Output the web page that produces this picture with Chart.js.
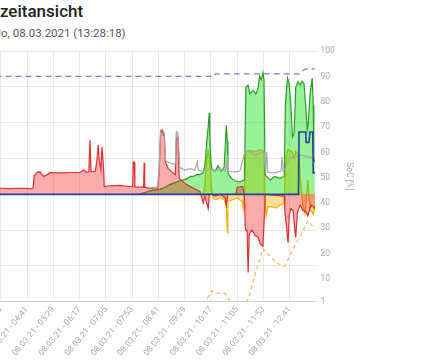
<!DOCTYPE html>
<html>
<head>
<meta charset="utf-8">
<script src="https://cdn.jsdelivr.net/npm/chart.js@4.4.0/dist/chart.umd.min.js"></script>
<style>
  body { margin: 0; background: #fff; overflow: hidden; }
  #titel { position: absolute; left: -46px; top: 1px; font: 500 17px/20px Roboto; color: #222; white-space: nowrap; }
  #datum { position: absolute; left: -9px; top: 27px; font: 11.5px/13.5px Roboto; color: #555; white-space: nowrap; }
  #box { position: absolute; left: -42px; top: 41px; width: 475px; height: 320px; }
</style>
</head>
<body>
<div id="titel">Tageszeitansicht</div>
<div id="datum">Mo, 08.03.2021 (13:28:18)</div>
<div id="box"><canvas id="tagesChart"></canvas></div>
<script>
// x-Achse
const tickLabels = ['08.03.21 - 03:53', '08.03.21 - 04:41', '08.03.21 - 05:29', '08.03.21 - 06:17',
    '08.03.21 - 07:05', '08.03.21 - 07:53', '08.03.21 - 08:41', '08.03.21 - 09:29',
    '08.03.21 - 10:17', '08.03.21 - 11:05', '08.03.21 - 11:53', '08.03.21 - 12:41'];

// Netz (kW, + Bezug / - Einspeisung)
const netzZeit = ['03:25', '03:52', '04:10', '04:29', '04:47', '04:52', '04:54', '05:00', '05:05', '05:11',
    '05:18', '05:23', '05:42', '06:00', '06:18', '06:24', '06:29', '06:34', '06:36', '06:38',
    '06:46', '06:49', '06:51', '06:53', '06:56', '06:58', '07:01', '07:02', '07:13', '07:31',
    '07:46', '07:54', '07:55', '07:57', '07:58', '08:14', '08:15', '08:16', '08:26', '08:39',
    '08:42', '08:45', '08:48', '08:52', '08:54', '08:59', '09:06', '09:12', '09:14', '09:17',
    '09:19', '09:30', '09:39', '09:48', '09:57', '10:03', '10:06', '10:12', '10:14', '10:19',
    '10:25', '10:34', '10:43', '10:45', '10:48', '10:52', '11:03', '11:05', '11:15', '11:18',
    '11:20', '11:23', '11:25', '11:27', '11:32', '11:38', '11:43', '11:47', '11:52', '11:55',
    '11:56', '12:31', '12:32', '12:35', '12:38', '12:40', '12:43', '12:47', '12:51', '12:52',
    '12:55', '13:00', '13:05', '13:11', '13:14', '13:20', '13:27'];
const netzWerte = [0.18, 0.17, 0.16, 0.17, 0.16, 0.17, 0.52, 0.62, 0.63, 0.50,
    0.55, 0.61, 0.60, 0.61, 0.61, 0.68, 0.63, 0.63, 1.52, 0.63,
    0.65, 1.0, 1.38, 0.95, 0.7, 1.32, 0.7, 0.22, 0.24, 0.25,
    0.22, 0.22, 0.9, 0.9, 0.2, 0.2, 0.88, 0.2, 0.17, 0.14,
    0.5, 1.7, 1.8, 1.6, 0.9, 0.72, 0.62, 0.55, 1.65, 1.5,
    0.45, 0.3, 0.22, 0.15, 0.08, -0.24, -0.05, -0.4, 0, 0,
    -0.05, 0, -0.1, -0.3, 0, 0, 0, 0.2, 0.22, 0,
    -1.0, -1.0, -2.18, -1.1, -1.0, -1.15, -1.2, -1.38, -1.45, -0.5,
    0, -0.05, -0.5, -0.9, -1.35, -0.6, -0.4, -0.45, -1.1, -1.2,
    -0.5, -0.3, -0.45, -0.5, -0.6, -0.3, -0.4];

// Verbrauch (kW)
const verbrauchZeit = ['08:26', '08:39', '08:42', '08:45', '08:48', '08:52', '08:54', '08:59', '09:06', '09:12',
    '09:14', '09:17', '09:20', '09:30', '09:39', '09:48', '09:52', '09:54', '10:06', '10:15',
    '10:25', '10:34', '10:43', '10:47', '10:48', '11:01', '11:10', '11:19', '11:28', '11:38',
    '11:47', '11:54', '11:57', '11:59', '12:01', '12:14', '12:25', '12:27', '12:29', '12:32',
    '12:40', '13:00', '13:27'];
const verbrauchWerte = [0.18, 0.2, 0.6, 1.8, 1.82, 1.7, 0.95, 0.9, 0.85, 0.85,
    1.75, 1.7, 0.75, 0.68, 0.72, 0.68, 0.9, 0.68, 0.62, 0.7,
    0.65, 0.7, 0.65, 0.99, 0.65, 0.62, 0.65, 1.18, 1.2, 1.1,
    1.15, 1.2, 0.62, 1.18, 0.62, 0.6, 0.65, 1.05, 0.65, 0.7,
    1.0, 1.1, 1.0];

// PV-Erzeugung (kW)
const pvZeit = ['08:04', '08:17', '08:26', '08:44', '08:53', '09:03', '09:12', '09:21', '09:30', '09:34',
    '09:39', '09:44', '09:52', '09:57', '10:03', '10:06', '10:09', '10:12', '10:14', '10:15',
    '10:17', '10:19', '10:25', '10:30', '10:36', '10:41', '10:43', '10:45', '10:47', '10:48',
    '10:54', '11:01', '11:10', '11:18', '11:21', '11:25', '11:28', '11:34', '11:39', '11:43',
    '11:46', '11:49', '11:52', '11:54', '11:56', '12:05', '12:14', '12:23', '12:31', '12:33',
    '12:37', '12:40', '12:43', '12:46', '12:49', '12:52', '12:56', '13:00', '13:03', '13:07',
    '13:10', '13:13', '13:15', '13:18', '13:22', '13:24', '13:25', '13:27'];
const pvWerte = [0, 0.05, 0.1, 0.14, 0.2, 0.28, 0.33, 0.38, 0.42, 0.44,
    0.5, 0.5, 0.55, 0.55, 0.6, 0.8, 1.4, 1.9, 2.28, 1.6,
    0.9, 0.7, 0.65, 0.8, 0.65, 0.75, 1.3, 1.93, 1.5, 0.6,
    0.45, 0.38, 0.35, 0.4, 3.0, 3.05, 2.8, 2.9, 2.8, 2.95,
    3.3, 3.2, 3.4, 3.2, 0.55, 0.4, 0.5, 0.45, 0.5, 2.5,
    3.25, 3.1, 2.5, 1.6, 1.7, 3.0, 3.15, 3.05, 3.15, 3.1,
    2.5, 1.8, 2.0, 2.8, 3.25, 2.5, 1.0, 0.9];

// Batterie (kW, + Laden / - Entladen)
const batterieZeit = ['09:57', '10:03', '10:06', '10:09', '10:12', '10:15', '10:18', '10:21', '10:25', '10:34',
    '10:41', '10:45', '10:47', '10:48', '10:56', '11:05', '11:14', '11:16', '11:18', '11:21',
    '11:28', '11:38', '11:47', '11:54', '11:56', '11:58', '12:01', '12:09', '12:16', '12:23',
    '12:31', '12:33', '12:37', '12:45', '12:49', '12:52', '12:58', '13:00', '13:05', '13:09',
    '13:14', '13:18', '13:24', '13:27'];
const batterieWerte = [0, 0, 0.3, 1.0, 1.2, 1.0, 0.2, -0.1, -0.15, -0.1,
    -0.15, -0.3, -1.07, -0.2, -0.15, -0.1, -0.2, -0.4, 0, 1.2,
    1.22, 1.2, 1.25, 1.2, -0.2, -0.6, -0.35, -0.35, -0.38, -0.3,
    -0.25, 0.8, 1.25, 1.2, 1.0, 1.2, 1.1, 0.5, -0.3, -0.55,
    0.4, -0.4, -0.55, -0.3];

// Ladezustand Batterie (%)
const socZeit = ['10:03', '10:06', '10:10', '10:19', '10:25', '10:43', '10:47', '10:52', '11:19', '11:25',
    '11:38', '11:52', '12:05', '12:20', '12:32', '12:51', '13:05', '13:14', '13:22', '13:27'];
const socWerte = [0, 1, 2.2, 5.3, 4.5, 4.3, 3.5, 0.8, 0.5, 2,
    12, 22, 19, 16, 15, 23.6, 29, 33, 31, 30.6];

// Autarkie (%)
const autarkieZeit = ['03:25', '10:23', '10:25', '12:59', '13:03', '13:10', '13:27'];
const autarkieWerte = [90, 90, 91, 91, 92, 93, 93];

// Wallbox (kW)
const wallboxZeit = ['03:25', '12:57', '12:58', '13:10', '13:11', '13:16', '13:18', '13:23', '13:24', '13:27'];
const wallboxWerte = [0, 0, 1.74, 1.74, 1.45, 1.45, 1.74, 1.74, 0.6, 0.6];

function minuten(hhmm) {
    const p = hhmm.split(':');
    return Number(p[0]) * 60 + Number(p[1]);
}
function punkte(zeiten, werte) {
    return zeiten.map((z, i) => ({ x: minuten(z), y: werte[i] }));
}
const tickWerte = tickLabels.map(l => minuten(l.split(' - ')[1]));

Chart.defaults.font.family = 'Roboto';
Chart.defaults.font.size = 8.5;
Chart.defaults.color = '#a8a8a8';

document.addEventListener("DOMContentLoaded", function () {
    const ctx = document.getElementById("tagesChart").getContext("2d");

    new Chart(ctx, {
        type: 'line',
        data: {
            datasets: [
                { label: 'Wallbox', data: punkte(wallboxZeit, wallboxWerte), yAxisID: 'y',
                  borderColor: '#26429a', borderWidth: 1.6, fill: false },
                { label: 'Verbrauch', data: punkte(verbrauchZeit, verbrauchWerte), yAxisID: 'y',
                  borderColor: '#a9a9a9', borderWidth: 1.2, fill: false },
                { label: 'Netz', data: punkte(netzZeit, netzWerte), yAxisID: 'y',
                  borderColor: '#dd3030', borderWidth: 1.2, fill: 'origin', backgroundColor: 'rgba(240,0,0,0.33)' },
                { label: 'PV', data: punkte(pvZeit, pvWerte), yAxisID: 'y',
                  borderColor: '#2e9a2e', borderWidth: 1.2, fill: 'origin', backgroundColor: 'rgba(0,220,0,0.4)' },
                { label: 'Batterie', data: punkte(batterieZeit, batterieWerte), yAxisID: 'y',
                  borderColor: '#f2b000', borderWidth: 1.2, fill: 'origin', backgroundColor: 'rgba(255,175,0,0.4)' },
                { label: 'SoC', data: punkte(socZeit, socWerte), yAxisID: 'y1',
                  borderColor: '#f6b85e', borderWidth: 1.2, borderDash: [4, 3], fill: false },
                { label: 'Autarkie', data: punkte(autarkieZeit, autarkieWerte), yAxisID: 'y1',
                  borderColor: '#7b7be6', borderWidth: 1.3, borderDash: [6, 4], fill: false }
            ]
        },
        options: {
            responsive: true,
            maintainAspectRatio: false,
            animation: false,
            layout: { padding: { right: 75 } },
            elements: { point: { radius: 0 }, line: { tension: 0 } },
            scales: {
                x: {
                    type: 'linear',
                    min: minuten('03:25'),
                    max: minuten('13:28'),
                    afterBuildTicks: function (scale) {
                        scale.ticks = tickWerte.map(v => ({ value: v }));
                    },
                    ticks: {
                        autoSkip: false,
                        minRotation: 50,
                        maxRotation: 50,
                        callback: function (value) {
                            const i = tickWerte.indexOf(value);
                            return i >= 0 ? tickLabels[i] : '';
                        }
                    },
                    grid: { color: 'rgba(0,0,0,0.09)', drawTicks: false },
                    border: { color: '#d0d0d0' }
                },
                y: {
                    position: 'left',
                    min: -3,
                    max: 4,
                    ticks: { stepSize: 1 },
                    grid: { color: 'rgba(0,0,0,0.09)', drawTicks: false },
                    border: { display: false }
                },
                y1: {
                    position: 'right',
                    min: 1,
                    max: 100,
                    ticks: { stepSize: 10, padding: 5 },
                    grid: { drawOnChartArea: false, drawTicks: false },
                    border: { display: false },
                    title: { display: true, text: 'SoC [%]', color: '#a8a8a8' }
                }
            },
            plugins: {
                legend: { display: false },
                tooltip: { enabled: false }
            }
        }
    });
});
</script>
</body>
</html>
